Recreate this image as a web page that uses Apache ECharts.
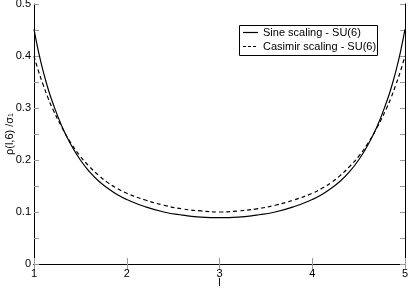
<!DOCTYPE html>
<html><head><meta charset="utf-8">
<script src="https://cdn.jsdelivr.net/npm/echarts@6/dist/echarts.min.js"></script>
<style>html,body{margin:0;padding:0;background:#fff}#c{width:409px;height:288px}</style>
</head><body><div id="c"></div>
<script>
var lValues = [1.0,1.05,1.1,1.15,1.2,1.3,1.4,1.5,1.6,1.7,1.8,1.9,2.0,2.2,2.4,2.6,2.8,3.0,3.2,3.4,3.6,3.8,4.0,4.1,4.2,4.3,4.4,4.5,4.6,4.7,4.8,4.85,4.9,4.95,5.0];
var sineValues = [0.451,0.407,0.370,0.338,0.311,0.265,0.229,0.200,0.177,0.159,0.145,0.133,0.124,0.110,0.100,0.094,0.090,0.089,0.090,0.094,0.100,0.110,0.124,0.133,0.145,0.159,0.177,0.200,0.229,0.265,0.311,0.338,0.370,0.407,0.451];
var casimirValues = [0.400,0.370,0.344,0.320,0.299,0.263,0.232,0.207,0.187,0.170,0.156,0.145,0.136,0.123,0.113,0.106,0.102,0.100,0.102,0.106,0.113,0.123,0.136,0.145,0.156,0.170,0.187,0.207,0.232,0.263,0.299,0.320,0.344,0.370,0.400];
var xTicks = [1,2,3,4,5];
var yTicks = [0,0.1,0.2,0.3,0.4,0.5];
var seriesNames = ['Sine scaling - SU(6)','Casimir scaling - SU(6)'];

function pairs(ys){ return lValues.map(function(x,i){return [x, ys[i]];}); }
var FONT = 'Liberation Sans';
var chart = echarts.init(document.getElementById('c'), null, {renderer:'canvas'});
chart.setOption({
  animation:false,
  textStyle:{fontFamily:FONT},
  grid:{left:34,right:4,top:4,bottom:24,containLabel:false,outerBoundsMode:'none'},
  legend:{show:false},
  graphic:[
    {type:'rect',shape:{x:239.5,y:25.5,width:138,height:30},style:{fill:'#fff',stroke:'#000',lineWidth:1},z:100},
    {type:'line',shape:{x1:243,y1:32.5,x2:258,y2:32.5},style:{stroke:'#000',lineWidth:1.2},z:101},
    {type:'line',shape:{x1:243,y1:46.5,x2:258,y2:46.5},style:{stroke:'#000',lineWidth:1.2,lineDash:[3,2]},z:101},
    {type:'text',x:263,y:32.5,style:{text:seriesNames[0],fontFamily:FONT,fontSize:11,fill:'#000',textVerticalAlign:'middle',verticalAlign:'middle'},z:101},
    {type:'text',x:263,y:46.5,style:{text:seriesNames[1],fontFamily:FONT,fontSize:11,fill:'#000',textVerticalAlign:'middle',verticalAlign:'middle'},z:101}
  ],
  xAxis:[{
    type:'value', min:xTicks[0], max:xTicks[xTicks.length-1], interval:1,
    name:'l', nameLocation:'middle', nameGap:13, nameMoveOverlap:false,
    nameTextStyle:{fontFamily:FONT,fontSize:11,color:'#000'},
    axisLine:{lineStyle:{color:'#000',width:1}},
    axisTick:{inside:true,length:6,lineStyle:{color:'#999',width:1}},
    axisLabel:{fontFamily:FONT,fontSize:11,color:'#000',margin:4},
    splitLine:{show:false}
  },{
    type:'value', position:'top', min:xTicks[0], max:xTicks[xTicks.length-1], interval:1,
    axisLine:{lineStyle:{color:'#000',width:1}},
    axisTick:{inside:true,length:6,lineStyle:{color:'#999',width:1}},
    axisLabel:{show:false}, splitLine:{show:false}
  }],
  yAxis:[{
    type:'value', min:yTicks[0], max:yTicks[yTicks.length-1], interval:0.1,
    name:'{a|ρ(l,6) /σ}{s|1}', nameLocation:'middle', nameGap:19, nameRotate:90, nameMoveOverlap:false,
    nameTextStyle:{rich:{a:{fontFamily:FONT,fontSize:11,color:'#000'},s:{fontFamily:FONT,fontSize:7,color:'#000',verticalAlign:'bottom',padding:[4,0,0,0]}}},
    axisLine:{lineStyle:{color:'#000',width:1}},
    axisTick:{inside:true,length:5,lineStyle:{color:'#999',width:1}},
    minorTick:{show:true,splitNumber:2,length:5,lineStyle:{color:'#999',width:1}},
    axisLabel:{fontFamily:FONT,fontSize:11,color:'#000',margin:3,
      formatter:function(v){return v===0?'0':v.toFixed(1);}},
    splitLine:{show:false}
  },{
    type:'value', position:'right', min:yTicks[0], max:yTicks[yTicks.length-1], interval:0.1,
    axisLine:{lineStyle:{color:'#000',width:1}},
    axisTick:{inside:true,length:5,lineStyle:{color:'#999',width:1}},
    minorTick:{show:true,splitNumber:2,length:5,lineStyle:{color:'#999',width:1}},
    axisLabel:{show:false}, splitLine:{show:false}
  }],
  series:[{
    name:seriesNames[0], type:'line', smooth:true, symbol:'none', data:pairs(sineValues),
    lineStyle:{color:'#000',width:1.2,type:'solid'}, itemStyle:{color:'#000'}
  },{
    name:seriesNames[1], type:'line', smooth:true, symbol:'none', data:pairs(casimirValues),
    lineStyle:{color:'#000',width:1.2,type:[4,3]}, itemStyle:{color:'#000'}
  }]
});
</script></body></html>
